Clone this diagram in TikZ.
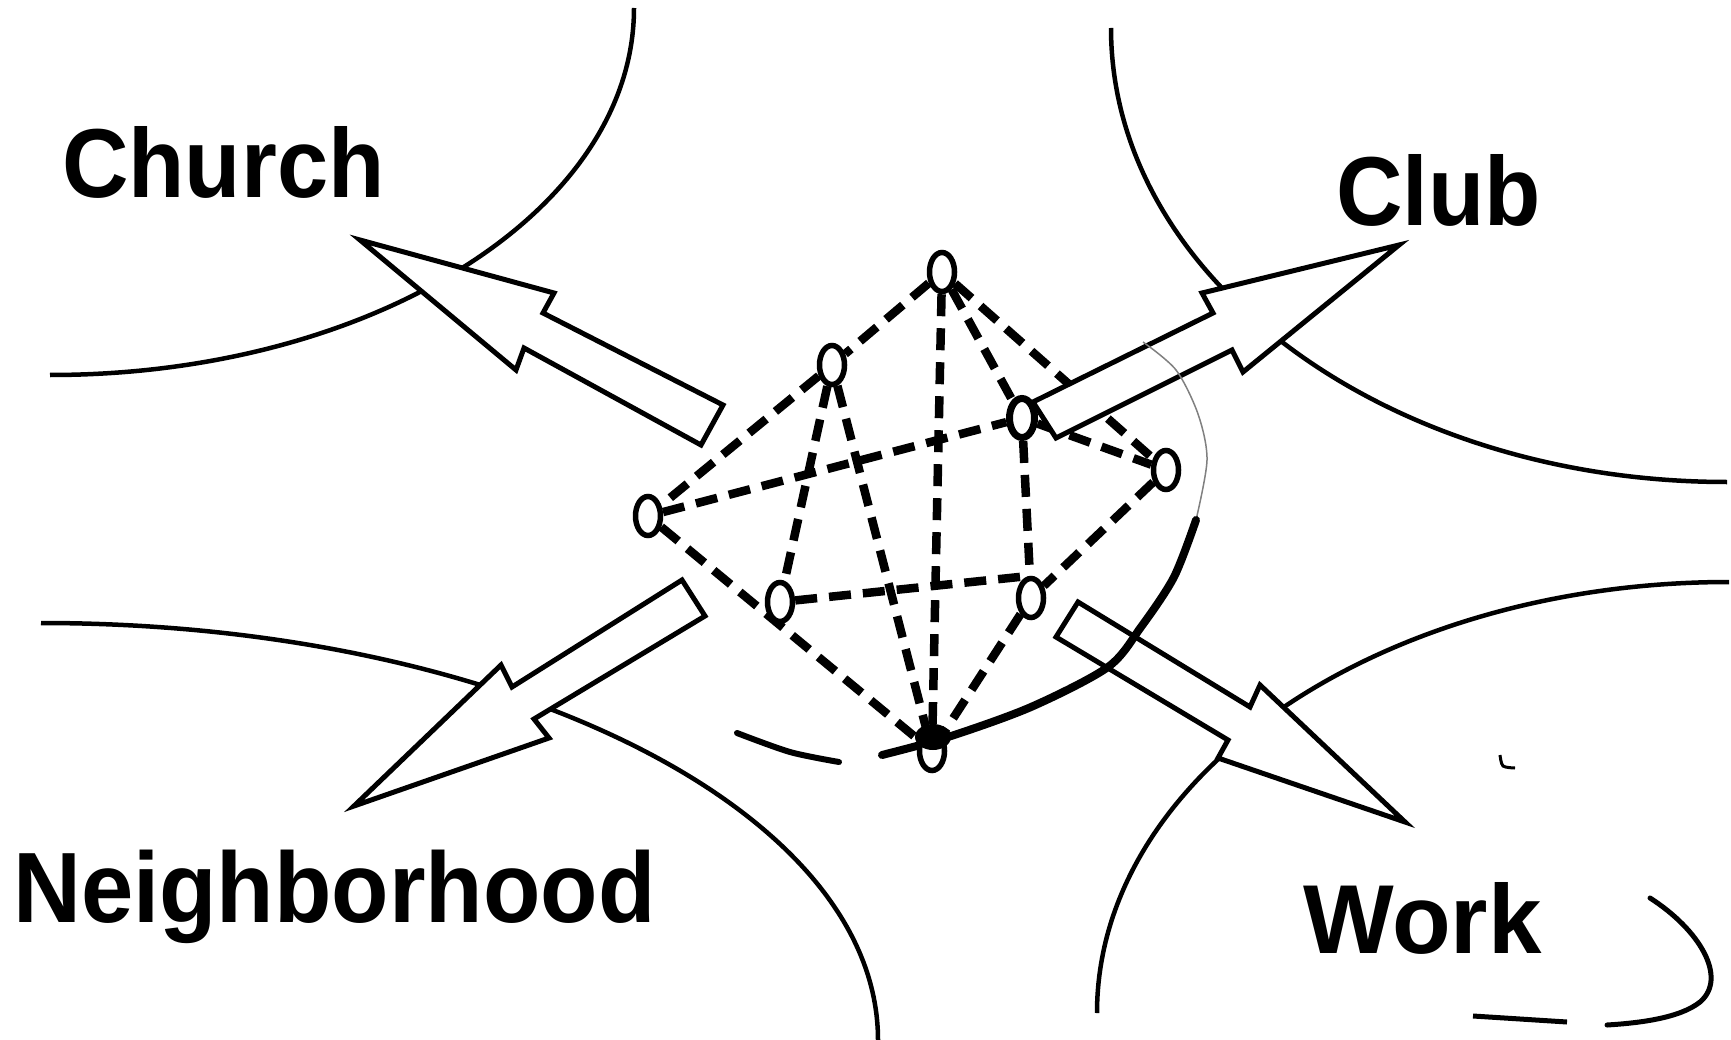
\documentclass[tikz,border=0pt]{standalone}
\usepackage{fontspec}
\usepackage{graphicx}
\setmainfont{Liberation Sans}
\usetikzlibrary{shapes.geometric}
\pgfdeclarelayer{regions}
\pgfdeclarelayer{links}
\pgfdeclarelayer{arrows}
\pgfsetlayers{regions,links,arrows,main}
\begin{document}
\begin{tikzpicture}[x=1pt,y=-1pt,
  region/.style={line width=4.5pt},
  blockarrow/.style={line width=5pt, fill=white, line join=miter, miter limit=20},
  link/.style={line width=8.5pt, dash pattern=on 22pt off 12pt},
  person/.style={ellipse, draw, line width=5.5pt, fill=white, minimum width=25pt, minimum height=39pt, inner sep=0pt},
  place/.style={font=\fontsize{98}{100}\selectfont\bfseries, inner sep=0pt, anchor=base west},
  ink/.style={line width=8pt, line cap=round}
]
\useasboundingbox (0,0) rectangle (1731,1040);

% people
\node[person] (p1) at (942,272) {};
\node[person] (p2) at (832,365) {};
\node[person] (p3) at (648,516) {};
\node[person, line width=7pt] (p4) at (1022,418) {};
\node[person] (p5) at (1166,470) {};
\node[person] (p6) at (780,602) {};
\node[person] (p7) at (1031,598) {};
\node[person] (p8) at (932,751) {};
\fill (933,737) ellipse [x radius=18, y radius=13];

% labels
\node[place] (church) at (62,198) {\scalebox{0.94}[1]{Church}};
\node[place] (club) at (1336,226) {\scalebox{0.94}[1]{Club}};
\node[place, font=\fontsize{100}{102}\selectfont\bfseries] (hood) at (13,922) {\scalebox{0.94}[1]{Neighborhood}};
\node[place] (work) at (1303,953) {\scalebox{0.98}[1]{Work}};

\begin{pgfonlayer}{regions}
  \draw[region] (634,8) arc[start angle=0, end angle=90, x radius=584, y radius=367];
  \draw[region] (1111,28) arc[start angle=180, end angle=90, x radius=616, y radius=454];
  \draw[region] (41,623) arc[start angle=-90, end angle=0, x radius=837, y radius=417];
  \draw[region] (1729,582) arc[start angle=-90, end angle=-180, x radius=632, y radius=431];
\end{pgfonlayer}

\begin{pgfonlayer}{links}
  \draw[link] (p1) -- (p2);
  \draw[link] (p2) -- (p3);
  \draw[link] (p1) -- (p8);
  \draw[link] (p1) -- (p4);
  \draw[link] (p1) -- (p5);
  \draw[link] (p2) -- (p6);
  \draw[link] (p2) -- (p8);
  \draw[link] (p3) -- (p4);
  \draw[link] (p3) -- (p8);
  \draw[link] (p4) -- (p7);
  \draw[link] (p4) -- (p5);
  \draw[link] (p5) -- (p7);
  \draw[link] (p6) -- (p7.north);
  \draw[link] (p7) -- (p8);
\end{pgfonlayer}

\begin{pgfonlayer}{arrows}
  \draw[blockarrow] (360,240) -- (554,293) -- (543,313) -- (723,405) -- (701,445) -- (524,348) -- (516,370) -- cycle;
  \draw[blockarrow] (1399,245) -- (1202,293) -- (1213,313) -- (1033,402) -- (1056,438) -- (1232,350) -- (1243,372) -- cycle;
  \draw[blockarrow] (354,806) -- (501,665) -- (512,687) -- (682,580) -- (705,616) -- (534,719) -- (549,738) -- cycle;
  \draw[blockarrow] (1405,822) -- (1260,685) -- (1250,707) -- (1078,602) -- (1056,637) -- (1228,740) -- (1218,758) -- cycle;
  % hand-drawn enclosing curve
  \draw[line width=1.5pt, gray] plot[smooth] coordinates {(1143,342) (1176,370) (1198,414) (1207,460) (1196,520)};
  \draw[ink] plot[smooth] coordinates {(1196,520) (1174,577) (1141,627) (1108,667) (1031,707) (948,737) (882,755)};
  \draw[ink, line width=6pt] plot[smooth] coordinates {(737,733) (790,752) (839,762)};
  % curl near Work
  \draw[line width=5pt, line cap=round] (1650,898) .. controls (1700,930) and (1728,978) .. (1700,1002) .. controls (1680,1018) and (1640,1023) .. (1607,1025);
  \draw[line width=5pt] (1473,1016) -- (1567,1022);
  \draw[line width=3pt] plot[smooth] coordinates {(1500,755) (1503,766) (1515,768)};
\end{pgfonlayer}
\end{tikzpicture}
\end{document}
